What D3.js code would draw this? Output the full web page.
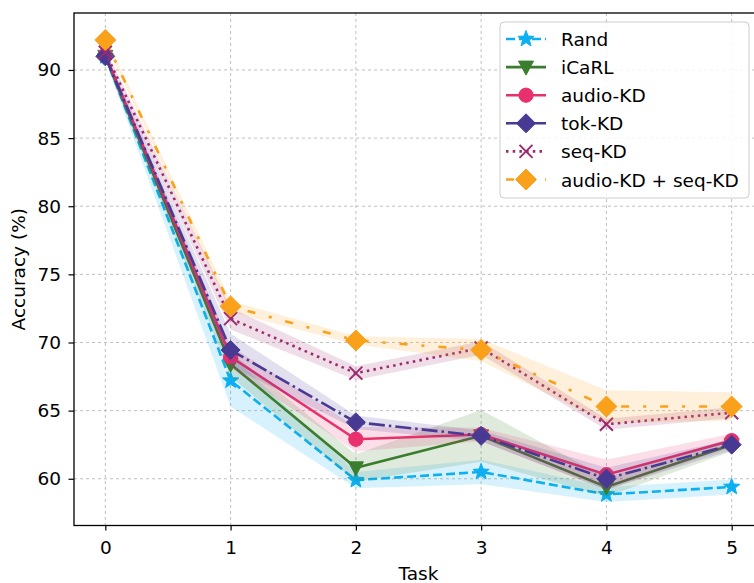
<!DOCTYPE html>
<html>
<head>
<meta charset="utf-8">
<script src="https://cdn.jsdelivr.net/npm/d3@7"></script>
<style>
  body { margin: 0; background: #fff; }
  svg { display: block; font-family: "DejaVu Sans", sans-serif; }
</style>
</head>
<body>
<svg id="chart" width="754" height="583"></svg>
<script>
var tasks = [0, 1, 2, 3, 4, 5];

var rand        = [91.0, 67.2, 59.9, 60.5, 58.85, 59.4];
var randStd     = [0.3, 1.9, 0.6, 0.9, 0.55, 0.55];
var icarl       = [91.0, 68.4, 60.8, 63.15, 59.4, 62.5];
var icarlStd    = [0.3, 0.9, 1.0, 1.9, 0.7, 0.5];
var audioKD     = [91.1, 68.95, 62.9, 63.25, 60.3, 62.8];
var audioKDStd  = [0.3, 0.8, 0.9, 0.5, 1.1, 0.5];
var tokKD       = [91.0, 69.45, 64.15, 63.15, 60.0, 62.5];
var tokKDStd    = [0.3, 1.2, 0.5, 0.4, 0.8, 0.4];
var seqKD       = [91.3, 71.75, 67.75, 69.6, 64.0, 64.85];
var seqKDStd    = [0.3, 0.8, 0.5, 0.5, 0.4, 0.4];
var audioSeq    = [92.2, 72.65, 70.15, 69.45, 65.3, 65.3];
var audioSeqStd = [0.27, 0.4, 0.3, 0.8, 1.2, 1.05];

var yTicks = [60, 65, 70, 75, 80, 85, 90];

var series = [
  {name: "Rand", vals: rand, std: randStd, color: "#0cb0f0", dash: "9,4", marker: "star"},
  {name: "iCaRL", vals: icarl, std: icarlStd, color: "#3a7d2e", dash: null, marker: "tri"},
  {name: "audio-KD", vals: audioKD, std: audioKDStd, color: "#e8306c", dash: null, marker: "circle"},
  {name: "tok-KD", vals: tokKD, std: tokKDStd, color: "#483a93", dash: "16,4,2.5,4", marker: "diamond"},
  {name: "seq-KD", vals: seqKD, std: seqKDStd, color: "#9b2a6e", dash: "2.5,4.2", marker: "x"},
  {name: "audio-KD + seq-KD", vals: audioSeq, std: audioSeqStd, color: "#f9a11b", dash: "8,14,3,14", marker: "bigdiamond"}
];

var svg = d3.select("#chart");
var pLeft = 74, pTop = 13, pRight = 763, pBottom = 525.5;
var fs = 18.5;

var x = d3.scaleLinear().domain([-0.25, 5.25]).range([pLeft, pRight]);
var y = d3.scaleLinear().domain([56.57, 94.18]).range([pBottom, pTop]);

// grid
var grid = svg.append("g");
grid.selectAll(".gx").data(tasks).enter().append("line")
  .attr("x1", d => x(d)).attr("x2", d => x(d))
  .attr("y1", pTop).attr("y2", pBottom)
  .attr("stroke", "#b0b0b0").attr("stroke-width", 0.8).attr("stroke-dasharray", "3,3");
grid.selectAll(".gy").data(yTicks).enter().append("line")
  .attr("x1", pLeft).attr("x2", pRight)
  .attr("y1", d => y(d)).attr("y2", d => y(d))
  .attr("stroke", "#b0b0b0").attr("stroke-width", 0.8).attr("stroke-dasharray", "3,3");

function markerPath(type) {
  if (type == "star") {
    var p = [];
    for (var i = 0; i < 10; i++) {
      var r = i % 2 == 0 ? 8.5 : 3.6;
      var a = -Math.PI / 2 + i * Math.PI / 5;
      p.push([r * Math.cos(a), r * Math.sin(a)]);
    }
    return "M" + p.join("L") + "Z";
  }
  if (type == "tri") return "M-7.5,-6L7.5,-6L0,8Z";
  if (type == "circle") return d3.symbol(d3.symbolCircle, 160)();
  if (type == "diamond") return "M0,-9.5L9.5,0L0,9.5L-9.5,0Z";
  if (type == "bigdiamond") return "M0,-10.5L10.5,0L0,10.5L-10.5,0Z";
  if (type == "x") return "M-6.5,-6.5L6.5,6.5M-6.5,6.5L6.5,-6.5";
}

var line = d3.line().x((d, i) => x(tasks[i])).y(d => y(d));

series.forEach(function(s) {
  var band = d3.area()
    .x((d, i) => x(tasks[i]))
    .y0((d, i) => y(d - s.std[i]))
    .y1((d, i) => y(d + s.std[i]));
  svg.append("path").datum(s.vals)
    .attr("d", band).attr("fill", s.color).attr("fill-opacity", 0.16);

  svg.append("path").datum(s.vals)
    .attr("d", line).attr("fill", "none")
    .attr("stroke", s.color).attr("stroke-width", 2.6)
    .attr("stroke-dasharray", s.dash);

  svg.selectAll(null).data(s.vals).enter().append("path")
    .attr("transform", (d, i) => "translate(" + x(tasks[i]) + "," + y(d) + ")")
    .attr("d", markerPath(s.marker))
    .attr("fill", s.marker == "x" ? "none" : s.color)
    .attr("stroke", s.color)
    .attr("stroke-width", s.marker == "x" ? 2 : 1);
});

// frame
svg.append("rect").attr("x", pLeft).attr("y", pTop)
  .attr("width", pRight - pLeft).attr("height", pBottom - pTop)
  .attr("fill", "none").attr("stroke", "#000").attr("stroke-width", 1.3);

var xAxis = svg.append("g").attr("transform", "translate(0," + pBottom + ")")
  .call(d3.axisBottom(x).tickValues(tasks).tickFormat(d3.format("d")).tickSize(5).tickPadding(10));
var yAxis = svg.append("g").attr("transform", "translate(" + pLeft + ",0)")
  .call(d3.axisLeft(y).tickValues(yTicks).tickSize(5.5).tickPadding(7.5));
[xAxis, yAxis].forEach(function(a) {
  a.select(".domain").remove();
  a.selectAll("line").attr("stroke", "#000").attr("stroke-width", 1.2);
  a.selectAll("text").attr("font-family", "DejaVu Sans").attr("font-size", fs).attr("fill", "#000");
});

svg.append("text").attr("x", (pLeft + pRight) / 2).attr("y", 580)
  .attr("text-anchor", "middle").attr("font-size", fs).text("Task");
svg.append("text").attr("transform", "translate(25," + ((pTop + pBottom) / 2) + ") rotate(-90)")
  .attr("text-anchor", "middle").attr("font-size", fs).text("Accuracy (%)");

// legend
var lg = svg.append("g");
lg.append("rect").attr("x", 500).attr("y", 22).attr("width", 249).attr("height", 176)
  .attr("rx", 4).attr("fill", "#fff").attr("fill-opacity", 0.85)
  .attr("stroke", "#cccccc").attr("stroke-width", 1);
series.forEach(function(s, i) {
  var ly = 39 + i * 28.1;
  lg.append("line").attr("x1", 506).attr("x2", 546).attr("y1", ly).attr("y2", ly)
    .attr("stroke", s.color).attr("stroke-width", 2.6).attr("stroke-dasharray", s.dash);
  lg.append("path").attr("transform", "translate(526," + ly + ")")
    .attr("d", markerPath(s.marker))
    .attr("fill", s.marker == "x" ? "none" : s.color)
    .attr("stroke", s.color).attr("stroke-width", s.marker == "x" ? 2 : 1);
  lg.append("text").attr("x", 561).attr("y", ly + 7).attr("font-size", fs).text(s.name);
});
</script>
</body>
</html>
